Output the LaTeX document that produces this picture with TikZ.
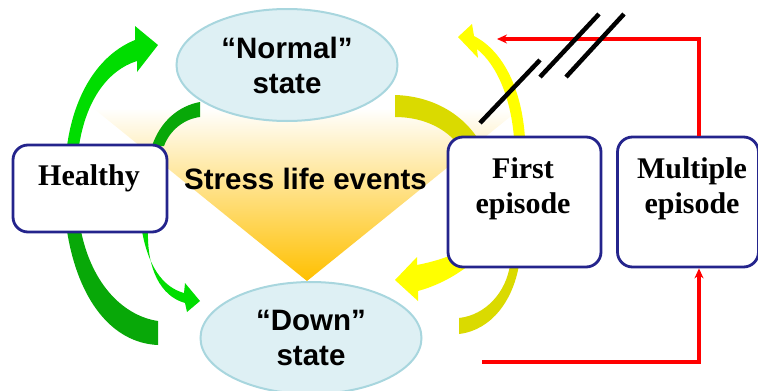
\documentclass[tikz,border=0pt]{standalone}
\usepackage{fontspec}
\setmainfont{Liberation Serif}
\setsansfont{Liberation Sans}
\usetikzlibrary{shapes.geometric,arrows.meta}
\definecolor{brightgreen}{RGB}{0,221,0}
\definecolor{darkgreen}{RGB}{8,168,8}
\definecolor{oliveyel}{RGB}{218,218,0}
\definecolor{brightyel}{RGB}{255,255,0}
\definecolor{ellfill}{RGB}{222,240,244}
\definecolor{ellborder}{RGB}{168,214,222}
\definecolor{navybox}{RGB}{36,36,140}
\definecolor{trigold}{RGB}{255,192,0}
\definecolor{redline}{RGB}{255,0,0}
\begin{document}
\begin{tikzpicture}[x=1pt,y=-1pt,
  statenode/.style={ellipse, draw=ellborder, line width=2pt, fill=ellfill,
    minimum width=221pt, minimum height=112pt, inner sep=0pt, align=center,
    font=\sffamily\bfseries\fontsize{29.5}{35}\selectfont},
  boxnode/.style={draw=navybox, line width=2.8pt, fill=white, rounded corners=15pt, inner sep=0pt},
  boxtext/.style={align=center, inner sep=0pt, font=\rmfamily\bfseries\fontsize{30}{35}\selectfont},
  stresstext/.style={inner sep=0pt, font=\sffamily\bfseries\fontsize{29.5}{35}\selectfont},
  redconn/.style={draw=redline, line width=3.5pt, line join=miter, -{Stealth[length=10pt,width=9pt]}},
  slash/.style={draw=black, line width=4.5pt}]
\useasboundingbox (0,0) rectangle (758,391);
% stress triangle
\shade[top color=white, middle color=trigold!35, bottom color=trigold] (93,108) -- (521,108) -- (307,281) -- cycle;
% green arrows
\fill[brightgreen] (67,146) .. controls (74,95) and (98,55) .. (135,40) -- (135,26) -- (158,45) -- (137,72) -- (137,61) .. controls (108,70) and (86,100) .. (79,146) -- cycle;
\fill[darkgreen] (152,146) .. controls (160,122) and (178,106) .. (200,102) -- (200,117) .. controls (184,119) and (170,130) .. (164,146) -- cycle;
\fill[darkgreen] (67,231) .. controls (78,300) and (112,343) .. (158,345) -- (158,321) .. controls (124,316) and (92,285) .. (81,231) -- cycle;
\fill[brightgreen] (142,231) .. controls (148,265) and (162,287) .. (184,293) -- (185,283) -- (200,301) -- (187,312) -- (185,303) .. controls (160,296) and (147,268) .. (148,231) -- cycle;
% yellow arrows
\fill[oliveyel] (395,95) .. controls (430,96) and (462,112) .. (480,142) -- (456,142) .. controls (442,126) and (420,117) .. (395,117) -- cycle;
\fill[brightyel] (525,138) .. controls (522,92) and (505,52) .. (474,36) -- (472,24) -- (458,37) -- (478,58) -- (477,49) .. controls (498,66) and (511,100) .. (514,138) -- cycle;
\fill[brightyel] (462,250) .. controls (447,258) and (432,262) .. (417,265) -- (417,257) -- (395,280) -- (418,301) -- (418,291) .. controls (436,286) and (452,278) .. (468,266) -- cycle;
\fill[oliveyel] (510,265) .. controls (506,292) and (486,315) .. (459,318) -- (459,334) .. controls (492,330) and (513,300) .. (519,265) -- cycle;
% states
\node[statenode] (normal) at (287,65) {“Normal”\\state};
\node[statenode] (down) at (311,338) {“Down”\\state};
% boxes
\node[boxnode, minimum width=154pt, minimum height=87pt] (healthy) at (90,188.5) {};
\node[boxtext] (healthytxt) at (89,178) {Healthy};
\node[boxnode, minimum width=153pt, minimum height=130pt] (first) at (524.5,202) {};
\node[boxtext] (firsttxt) at (523,189) {First\\episode};
\node[boxnode, minimum width=141pt, minimum height=130pt] (multi) at (688,202) {};
\node[boxtext] (multitxt) at (692,189) {Multiple\\episode};
\node[stresstext] (stress) at (305.5,178.5) {Stress life events};
% red connectors
\coordinate (redtop) at (699,39);
\coordinate (redtip) at (497,39);
\draw[redconn] (multi.north -| redtop) -- (redtop) -- (redtip);
\coordinate (redbl) at (482,362);
\coordinate (redbr) at (699,362);
\draw[redconn] (redbl) -- (redbr) -- (multi.south -| redbr);
% break marks
\draw[slash] (480,123) -- (540,60);
\draw[slash] (540,77) -- (599,14);
\draw[slash] (566,77) -- (624,14);
\end{tikzpicture}
\end{document}
